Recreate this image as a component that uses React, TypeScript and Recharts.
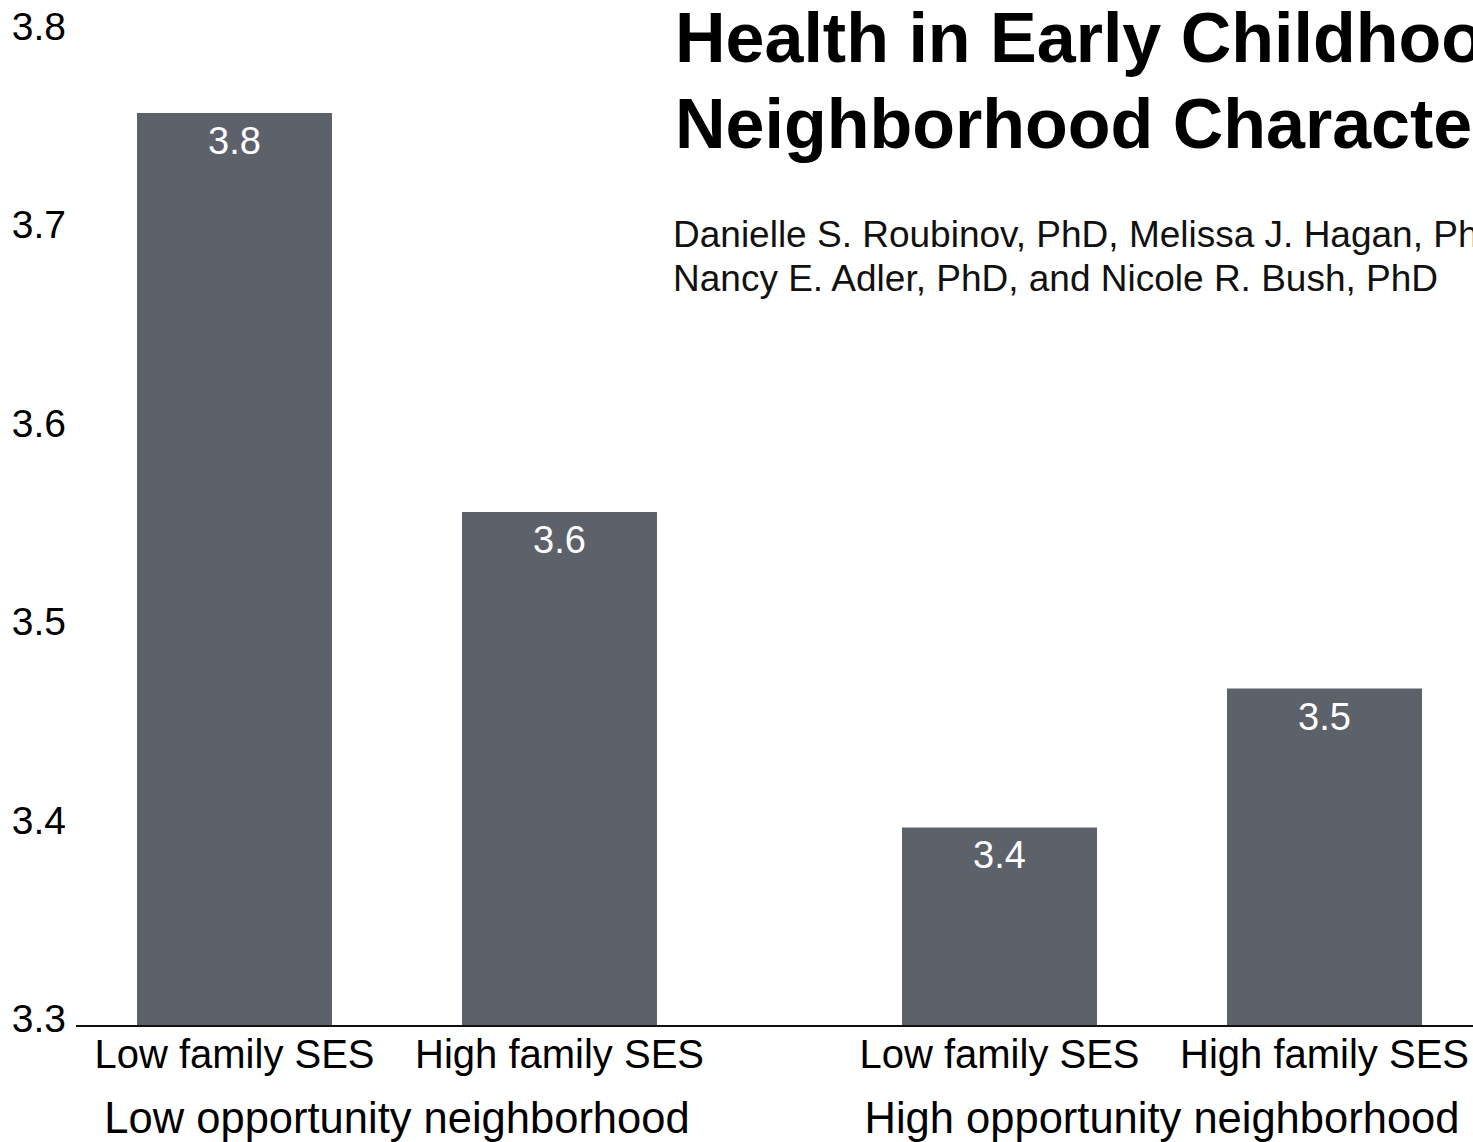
import { Bar, BarChart, LabelList, XAxis, YAxis } from 'recharts';

const sesLabels = ['Low family SES', 'High family SES'];
const lowOpportunityValues = [3.76, 3.559];
const highOpportunityValues = [3.4, 3.47];
const neighborhoodLabels = ['Low opportunity neighborhood', 'High opportunity neighborhood'];
const yTicks = [3.3, 3.4, 3.5, 3.6, 3.7, 3.8];
const titleLines = ['Health in Early Childhood: The Role of Advantageous', 'Neighborhood Characteristics'];
const authorLines = [
  'Danielle S. Roubinov, PhD, Melissa J. Hagan, PhD, MPH, W. Thomas Boyce, MD,',
  'Nancy E. Adler, PhD, and Nicole R. Bush, PhD',
];

const FONT = '"Liberation Sans", Arial, sans-serif';
const BAR_COLOR = '#5d616a';

const lowData = sesLabels.map((ses, i) => ({
  ses,
  group: neighborhoodLabels[0],
  value: lowOpportunityValues[i],
}));

const highData = sesLabels.map((ses, i) => ({
  ses,
  group: neighborhoodLabels[1],
  value: highOpportunityValues[i],
}));

const YTick = ({ x, y, payload }: { x?: number; y?: number; payload?: { value: number } }) => {
  if (x == null || y == null || !payload) return null;
  return (
    <text x={x} y={y - 8} dy="0.36em" textAnchor="end" fontSize={39} fill="#000" fontFamily={FONT}>
      {payload.value.toFixed(1)}
    </text>
  );
};

function Panel({
  data,
  width,
  showY,
  pad,
}: {
  data: typeof lowData;
  width: number;
  showY: boolean;
  pad: { left: number; right: number };
}) {
  return (
    <BarChart
      width={width}
      height={1142}
      data={data}
      margin={{ top: 33.5, right: 0, bottom: 0, left: 0 }}
      barCategoryGap="20%"
    >
      <XAxis
        xAxisId="a"
        dataKey="ses"
        padding={pad}
        axisLine={{ stroke: '#111', strokeWidth: 2 }}
        tickLine={false}
        tickSize={0}
        tickMargin={14}
        height={60}
        interval={0}
        tick={{ fontSize: 40, fill: '#000', fontFamily: FONT }}
      />
      <XAxis
        xAxisId="b"
        dataKey="group"
        allowDuplicatedCategory={false}
        padding={pad}
        axisLine={false}
        tickLine={false}
        tickSize={0}
        tickMargin={16}
        height={56}
        interval={0}
        tick={{ fontSize: 43.5, fill: '#000', fontFamily: FONT }}
      />
      <YAxis
        hide={!showY}
        width={76}
        domain={[3.3, 3.8]}
        ticks={yTicks}
        allowDataOverflow
        axisLine={false}
        tickLine={false}
        tickSize={0}
        tickMargin={10}
        tick={<YTick />}
      />
      <Bar xAxisId="a" dataKey="value" fill={BAR_COLOR} isAnimationActive={false}>
        <LabelList
          dataKey="value"
          position="insideTop"
          offset={14}
          formatter={(v: number) => v.toFixed(1)}
          fill="#fff"
          fontSize={38}
          fontFamily={FONT}
        />
      </Bar>
    </BarChart>
  );
}

export default function App() {
  return (
    <div
      style={{
        position: 'relative',
        width: 1473,
        height: 1142,
        overflow: 'hidden',
        background: '#fff',
      }}
    >
      <style>{'body{margin:0}'}</style>
      <div style={{ position: 'absolute', left: 0, top: 0 }}>
        <Panel data={lowData} width={837} showY pad={{ left: -4, right: 115 }} />
      </div>
      <div style={{ position: 'absolute', left: 837, top: 0 }}>
        <Panel data={highData} width={650} showY={false} pad={{ left: 0, right: 0 }} />
      </div>
      <svg
        width={1473}
        height={320}
        style={{ position: 'absolute', left: 0, top: 0, pointerEvents: 'none' }}
      >
        {titleLines.map((line, i) => (
          <text
            key={line}
            x={675}
            y={62 + i * 86}
            fontSize={70}
            fontWeight="bold"
            fill="#000"
            fontFamily={FONT}
          >
            {line}
          </text>
        ))}
        {authorLines.map((line, i) => (
          <text key={line} x={673} y={247 + i * 44} fontSize={37} fill="#111" fontFamily={FONT}>
            {line}
          </text>
        ))}
      </svg>
    </div>
  );
}
